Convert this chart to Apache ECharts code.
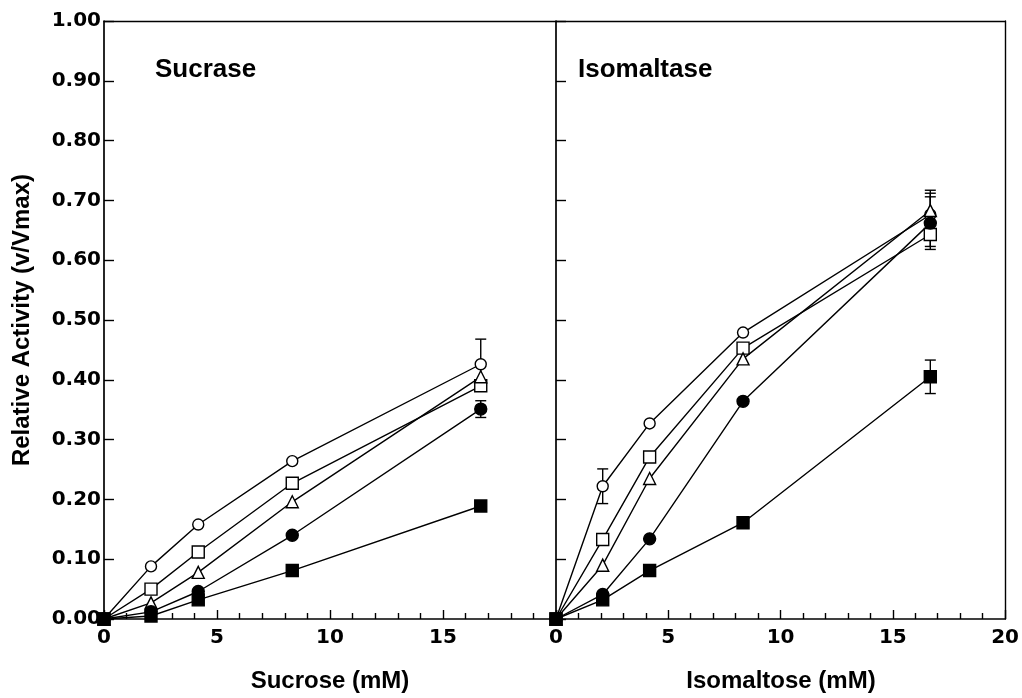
<!DOCTYPE html>
<html>
<head>
<meta charset="utf-8">
<script src="https://cdn.jsdelivr.net/npm/echarts@6/dist/echarts.min.js"></script>
<style>
  html, body { margin: 0; padding: 0; background: #fff; }
  #chart { width: 1022px; height: 698px; }
</style>
</head>
<body>
<div id="chart"></div>
<script>
// Substrate concentrations (mM), shared by both panels
const concentrations = [0, 2.08, 4.17, 8.33, 16.67];

// Sucrase activity (v/Vmax) for the five inhibitor conditions
const sucraseOpenCircle   = [0, 0.088, 0.158, 0.264, 0.426];
const sucraseOpenSquare   = [0, 0.050, 0.112, 0.227, 0.390];
const sucraseOpenTriangle = [0, 0.027, 0.078, 0.196, 0.405];
const sucraseFilledCircle = [0, 0.012, 0.046, 0.140, 0.351];
const sucraseFilledSquare = [0, 0.005, 0.032, 0.081, 0.189];

// Sucrase standard deviations (0 = no error bar drawn)
const sucraseOpenCircleSd   = [0, 0, 0, 0, 0.042];
const sucraseOpenSquareSd   = [0, 0, 0, 0, 0];
const sucraseOpenTriangleSd = [0, 0, 0, 0, 0];
const sucraseFilledCircleSd = [0, 0, 0, 0, 0.014];
const sucraseFilledSquareSd = [0, 0, 0, 0, 0];

// Isomaltase activity (v/Vmax)
const isomaltaseOpenCircle   = [0, 0.222, 0.327, 0.479, 0.676];
const isomaltaseOpenSquare   = [0, 0.133, 0.271, 0.453, 0.643];
const isomaltaseOpenTriangle = [0, 0.090, 0.235, 0.435, 0.683];
const isomaltaseFilledCircle = [0, 0.041, 0.134, 0.364, 0.662];
const isomaltaseFilledSquare = [0, 0.032, 0.081, 0.161, 0.405];

// Isomaltase standard deviations
const isomaltaseOpenCircleSd   = [0, 0.029, 0, 0, 0.036];
const isomaltaseOpenSquareSd   = [0, 0, 0, 0, 0.020];
const isomaltaseOpenTriangleSd = [0, 0, 0, 0, 0.034];
const isomaltaseFilledCircleSd = [0, 0, 0, 0, 0.044];
const isomaltaseFilledSquareSd = [0, 0, 0, 0, 0.028];

// Axis tick labels and titles
const yTickLabels = ['0.00','0.10','0.20','0.30','0.40','0.50','0.60','0.70','0.80','0.90','1.00'];
const leftXTickLabels = ['0', '5', '10', '15'];
const rightXTickLabels = ['0', '5', '10', '15', '20'];
const panelTitles = ['Sucrase', 'Isomaltase'];
const xAxisTitles = ['Sucrose (mM)', 'Isomaltose (mM)'];
const yAxisTitle = 'Relative Activity (v/Vmax)';

const FONT = '"Liberation Sans", Arial, sans-serif';
const TICK_FONT = '"DejaVu Sans", Verdana, sans-serif';
const LINE_W = 1.4;
const AXIS_W = 1.7;

const markerStyles = [
  { symbol: 'circle',   size: 11, fill: '#fff' },
  { symbol: 'rect',     size: 12, fill: '#fff' },
  { symbol: 'triangle', size: 12, fill: '#fff' },
  { symbol: 'circle',   size: 12, fill: '#000' },
  { symbol: 'rect',     size: 12, fill: '#000' }
];

const panels = [
  {
    values: [sucraseOpenCircle, sucraseOpenSquare, sucraseOpenTriangle, sucraseFilledCircle, sucraseFilledSquare],
    sds: [sucraseOpenCircleSd, sucraseOpenSquareSd, sucraseOpenTriangleSd, sucraseFilledCircleSd, sucraseFilledSquareSd]
  },
  {
    values: [isomaltaseOpenCircle, isomaltaseOpenSquare, isomaltaseOpenTriangle, isomaltaseFilledCircle, isomaltaseFilledSquare],
    sds: [isomaltaseOpenCircleSd, isomaltaseOpenSquareSd, isomaltaseOpenTriangleSd, isomaltaseFilledCircleSd, isomaltaseFilledSquareSd]
  }
];

const GRID_TOP = 21, GRID_H = 598;
const grids = [
  { left: 104, top: GRID_TOP, width: 452, height: GRID_H },
  { left: 556, top: GRID_TOP, width: 451, height: GRID_H }
];

const axisLine = { show: true, onZero: false, lineStyle: { color: '#000', width: AXIS_W } };
const tickLabelStyle = { color: '#000', fontFamily: TICK_FONT, fontWeight: 'bold', fontSize: 20 };

const xAxes = [];
const yAxes = [];
[0, 1].forEach(function (g) {
  const labels = g === 0 ? leftXTickLabels : rightXTickLabels;
  // bottom concentration axis
  xAxes.push({
    type: 'value', gridIndex: g, position: 'bottom', min: 0, max: 20, interval: 5,
    axisLine: axisLine,
    axisTick: { show: true, inside: true, length: 9, lineStyle: { color: '#000', width: LINE_W } },
    minorTick: { show: true, splitNumber: 5, length: 6, lineStyle: { color: '#000', width: LINE_W } },
    splitLine: { show: false },
    axisLabel: Object.assign({}, tickLabelStyle, {
      margin: 9,
      formatter: function (v) { const s = String(v); return labels.indexOf(s) >= 0 ? s : ''; }
    })
  });
  // top frame line
  xAxes.push({
    type: 'value', gridIndex: g, position: 'top', min: 0, max: 20,
    axisLine: { show: true, onZero: false, lineStyle: { color: '#000', width: LINE_W } },
    axisTick: { show: false }, axisLabel: { show: false }, splitLine: { show: false }
  });
  // left activity axis
  yAxes.push({
    type: 'value', gridIndex: g, position: 'left', min: 0, max: 1, interval: 0.1,
    axisLine: axisLine,
    axisTick: { show: true, inside: true, length: 10, lineStyle: { color: '#000', width: LINE_W } },
    splitLine: { show: false },
    axisLabel: Object.assign({}, tickLabelStyle, {
      show: g === 0, margin: 3,
      formatter: function (v) { return yTickLabels[Math.round(v * 10)]; }
    })
  });
  // right frame line
  yAxes.push({
    type: 'value', gridIndex: g, position: 'right', min: 0, max: 1,
    axisLine: { show: g === 1, onZero: false, lineStyle: { color: '#000', width: LINE_W } },
    axisTick: { show: false }, axisLabel: { show: false }, splitLine: { show: false }
  });
});

function errorBarItem(params, api) {
  const x = api.value(0), lo = api.value(1), hi = api.value(2);
  const pLo = api.coord([x, lo]);
  const pHi = api.coord([x, hi]);
  const w = 5.5;
  const st = { stroke: '#000', lineWidth: LINE_W };
  return {
    type: 'group',
    children: [
      { type: 'line', shape: { x1: pLo[0], y1: pLo[1], x2: pHi[0], y2: pHi[1] }, style: st },
      { type: 'line', shape: { x1: pHi[0] - w, y1: pHi[1], x2: pHi[0] + w, y2: pHi[1] }, style: st },
      { type: 'line', shape: { x1: pLo[0] - w, y1: pLo[1], x2: pLo[0] + w, y2: pLo[1] }, style: st }
    ]
  };
}

const series = [];
panels.forEach(function (panel, g) {
  const xIdx = g * 2, yIdx = g * 2;
  // error bars behind the markers
  const errData = [];
  panel.values.forEach(function (vals, s) {
    vals.forEach(function (v, i) {
      const sd = panel.sds[s][i];
      if (sd > 0) errData.push([concentrations[i], v - sd, v + sd]);
    });
  });
  series.push({
    type: 'custom', xAxisIndex: xIdx, yAxisIndex: yIdx, z: 1,
    renderItem: errorBarItem, data: errData, silent: true
  });
  panel.values.forEach(function (vals, s) {
    const m = markerStyles[s];
    series.push({
      type: 'line', xAxisIndex: xIdx, yAxisIndex: yIdx, z: 2 + s,
      data: vals.map(function (v, i) { return [concentrations[i], v]; }),
      symbol: m.symbol, symbolSize: m.size, showSymbol: true,
      lineStyle: { color: '#000', width: LINE_W },
      itemStyle: { color: m.fill, borderColor: '#000', borderWidth: LINE_W },
      emphasis: { disabled: true }, animation: false, silent: true
    });
  });
});

const titleStyle = { fill: '#000', fontFamily: FONT, fontWeight: 'bold', fontSize: 24 };
const graphics = [
  { type: 'text', x: 155, y: 70, style: Object.assign({ text: panelTitles[0], textVerticalAlign: 'middle' }, titleStyle, { fontSize: 26 }) },
  { type: 'text', x: 578, y: 70, style: Object.assign({ text: panelTitles[1], textVerticalAlign: 'middle' }, titleStyle, { fontSize: 26 }) },
  { type: 'text', x: 330, y: 681, style: Object.assign({ text: xAxisTitles[0], textAlign: 'center', textVerticalAlign: 'middle' }, titleStyle) },
  { type: 'text', x: 781, y: 681, style: Object.assign({ text: xAxisTitles[1], textAlign: 'center', textVerticalAlign: 'middle' }, titleStyle) },
  { type: 'text', x: 22, y: 320, rotation: Math.PI / 2, style: Object.assign({ text: yAxisTitle, textAlign: 'center', textVerticalAlign: 'middle' }, titleStyle) }
];

const chart = echarts.init(document.getElementById('chart'), null, { renderer: 'canvas' });
chart.setOption({
  backgroundColor: '#fff',
  animation: false,
  grid: grids,
  xAxis: xAxes,
  yAxis: yAxes,
  series: series,
  graphic: graphics
});
</script>
</body>
</html>
